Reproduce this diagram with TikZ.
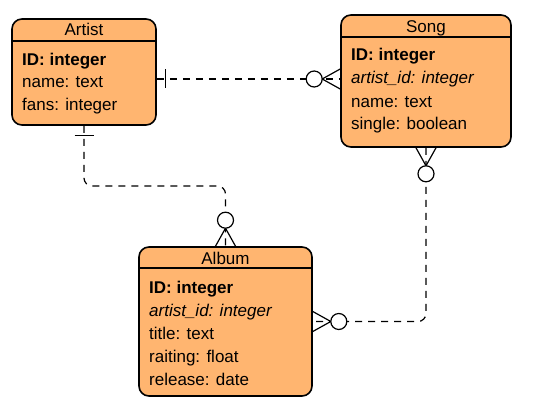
\documentclass[tikz,border=0pt]{standalone}
\usepackage{fontspec}
\setmainfont{Liberation Sans}
\usetikzlibrary{positioning,calc}
\definecolor{entityfill}{HTML}{FFB570}

\tikzset{
  entity/.style={draw, line width=1.6pt, fill=entityfill, rounded corners=10pt, inner sep=0pt},
  headline/.style={line width=1.4pt},
  title/.style={anchor=base, inner sep=0pt, font=\fontsize{17}{20}\selectfont},
  field/.style={anchor=base west, inner sep=0pt, font=\fontsize{17}{20}\selectfont},
  rel/.style={line width=1.2pt, dash pattern=on 7pt off 6pt},
  endline/.style={line width=1.2pt},
}

\begin{document}
\begin{tikzpicture}[x=1pt,y=-1pt]
    \useasboundingbox (0,0) rectangle (539,420);

    % Artist table
    \node[entity, minimum width=144pt, minimum height=106pt] (artist) at (84,72) {};
    \draw[headline] (artist.west |- 0,41) -- (artist.east |- 0,41);
    \node[title] (artisttitle) at (84,36) {Artist};
    \node[field] (artistid) at (22,65.5) {\textbf{ID: integer}};
    \node[field] (artistname) at (22,88) {name: text};
    \node[field] (artistfans) at (22,111) {fans: integer};

    % Song table
    \node[entity, minimum width=170pt, minimum height=132pt] (song) at (426,81) {};
    \draw[headline] (song.west |- 0,37) -- (song.east |- 0,37);
    \node[title] (songtitle) at (426,32.5) {Song};
    \node[field] (songid) at (351,61) {\textbf{ID: integer}};
    \node[field] (songartist) at (351,84) {\textit{artist\_id: integer}};
    \node[field] (songname) at (351,107) {name: text};
    \node[field] (songsingle) at (351,130) {single: boolean};

    % Album table
    \node[entity, minimum width=173pt, minimum height=149pt] (album) at (225.5,321.5) {};
    \draw[headline] (album.west |- 0,268) -- (album.east |- 0,268);
    \node[title] (albumtitle) at (225.5,264.5) {Album};
    \node[field] (albumid) at (149,293) {\textbf{ID: integer}};
    \node[field] (albumartist) at (149,316) {\textit{artist\_id: integer}};
    \node[field] (albumtitlefield) at (149,339) {title: text};
    \node[field] (albumrating) at (149,362) {raiting: float};
    \node[field] (albumrelease) at (149,385.5) {release: date};

    % Artist -- Song
    \coordinate (artistright) at (artist.east |- 0,79);
    \coordinate (songleft) at (song.west |- 0,79);
    \draw[rel] (artistright) -- (songleft);
    \draw[endline] ($(artistright)+(9,-9.5)$) -- ($(artistright)+(9,9.5)$);
    \draw[endline] ($(songleft)+(0,-10)$) -- ($(songleft)+(-18,0)$) -- ($(songleft)+(0,10)$);
    \draw[endline, fill=white] ($(songleft)+(-26,0)$) circle (8);

    % Artist -- Album
    \coordinate (artistbottom) at (artist.south);
    \coordinate (albumtop) at (album.north);
    \draw[rel, rounded corners=8pt] (artistbottom) -- (artistbottom |- 0,186) -- (albumtop |- 0,186) -- (albumtop);
    \draw[endline] ($(artistbottom)+(-9.5,10)$) -- ($(artistbottom)+(9.5,10)$);
    \draw[endline] ($(albumtop)+(-10,0)$) -- ($(albumtop)+(0,-18)$) -- ($(albumtop)+(10,0)$);
    \draw[endline, fill=white] ($(albumtop)+(0,-26)$) circle (8);

    % Song -- Album
    \coordinate (songbottom) at (song.south);
    \coordinate (albumright) at (album.east);
    \draw[rel, rounded corners=8pt] (songbottom) -- (songbottom |- albumright) -- (albumright);
    \draw[endline] ($(songbottom)+(-10,0)$) -- ($(songbottom)+(0,18)$) -- ($(songbottom)+(10,0)$);
    \draw[endline, fill=white] ($(songbottom)+(0,26)$) circle (8);
    \draw[endline] ($(albumright)+(0,-10)$) -- ($(albumright)+(18,0)$) -- ($(albumright)+(0,10)$);
    \draw[endline, fill=white] ($(albumright)+(26,0)$) circle (8);
\end{tikzpicture}
\end{document}
